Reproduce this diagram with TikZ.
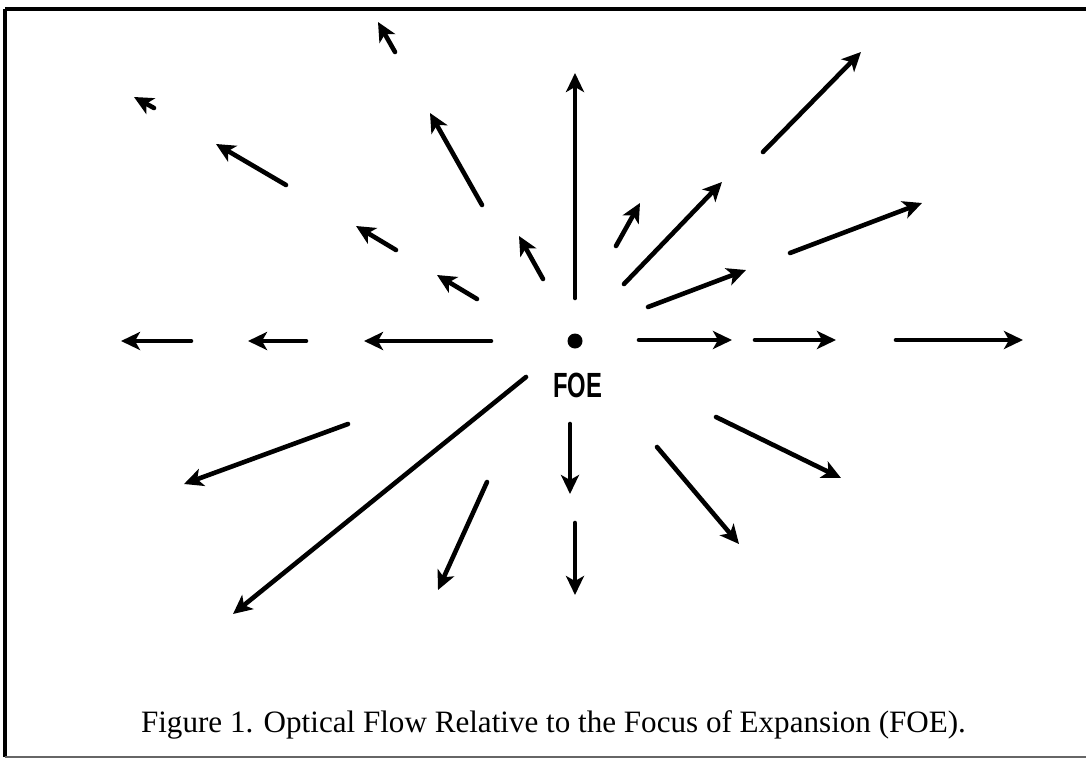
\documentclass[tikz,border=0pt]{standalone}
\usepackage{fontspec}
\setmainfont{Liberation Serif}
\newfontfamily\foefont{Liberation Sans}
\usetikzlibrary{arrows.meta}
\begin{document}
\begin{tikzpicture}[x=1pt,y=-1pt,
  flow/.style={line width=4.6pt, line cap=round, -{Stealth[length=19pt,width=18pt,inset=5pt]}},
  frameline/.style={line width=3.5pt},
  thinframe/.style={line width=1.5pt, draw=black!60}]
\useasboundingbox (0,0) rectangle (1086,768);
% frame
\draw[frameline] (5,9) -- (1086,9);
\draw[frameline] (5,9) -- (5,757);
\draw[thinframe] (5,757) -- (1086,757);
% focus of expansion
\fill (575,341) circle (7.5pt);
\node[anchor=base, inner sep=0pt, font=\foefont\bfseries\fontsize{35}{40}\selectfont] (foe) at (577.5,397) {\scalebox{0.68}[1]{FOE}};
% flow vectors (tail -> head)
\draw[flow] (395,52) -- (378,22);
\draw[flow] (154,108) -- (134,97);
\draw[flow] (286,185) -- (216,144);
\draw[flow] (482,205) -- (430,113);
\draw[flow] (396,250) -- (356,226);
\draw[flow] (477,299) -- (437,275);
\draw[flow] (543,279) -- (519,236);
\draw[flow] (191,341) -- (121,341);
\draw[flow] (306,341) -- (248,341);
\draw[flow] (491,341) -- (364,341);
\draw[flow] (575,298) -- (575,73);
\draw[flow] (763,152) -- (861,52);
\draw[flow] (624,284) -- (722,182);
\draw[flow] (616,246) -- (640,203);
\draw[flow] (790,253) -- (922,203);
\draw[flow] (648,307) -- (746,270);
\draw[flow] (639,340) -- (732,340);
\draw[flow] (755,340) -- (836,340);
\draw[flow] (896,340) -- (1023,340);
\draw[flow] (348,424) -- (184,484);
\draw[flow] (526,377) -- (233,614);
\draw[flow] (487,482) -- (438,590);
\draw[flow] (570,424) -- (570,494);
\draw[flow] (575,523) -- (575,595);
\draw[flow] (657,447) -- (739,544);
\draw[flow] (716,417) -- (841,478);
% caption
\node[anchor=base, inner sep=0pt, font=\fontsize{31.1}{36}\selectfont] (caption) at (553.5,732) {Figure 1. Optical Flow Relative to the Focus of Expansion (FOE).};
\end{tikzpicture}
\end{document}
